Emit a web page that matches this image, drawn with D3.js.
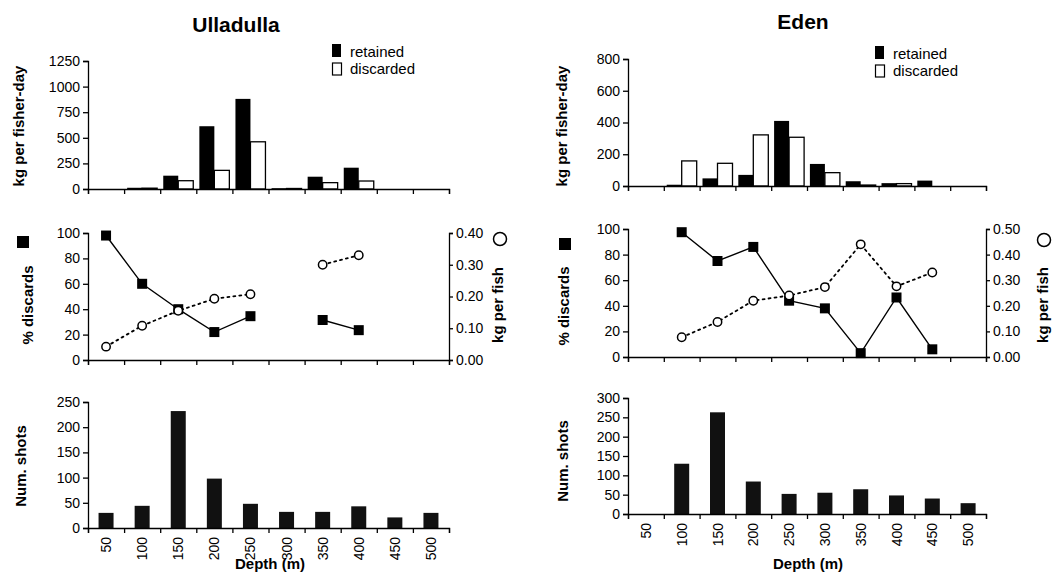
<!DOCTYPE html>
<html lang="en">
<head>
    <meta charset="UTF-8">
    <title>Ulladulla / Eden discards by depth</title>
    <script src="https://d3js.org/d3.v7.min.js"></script>
    <style>
        body {
            margin: 0;
            background: #fff;
            font-family: "Liberation Sans", Arial, sans-serif;
        }
        .tick text {
            font-size: 14px;
            fill: #000;
        }
        .domain, .tick line {
            stroke: #000;
            stroke-width: 1.3px;
        }
        .title {
            font-size: 21px;
            font-weight: bold;
        }
        .axtitle {
            font-size: 15px;
            font-weight: bold;
        }
        .legend {
            font-size: 15px;
        }
    </style>
</head>
<body>
<svg width="1056" height="574"></svg>
<script>
    // Depth classes (m)
    const depths = [50, 100, 150, 200, 250, 300, 350, 400, 450, 500];

    // Ulladulla
    const ullRetained  = [0, 12, 130, 613, 880, 8, 120, 208, 0, 0];
    const ullDiscarded = [0, 8, 81, 182, 461, 5, 62, 78, 0, 0];
    const ullPctDiscards = [98, 60, 40, 22, 34.5, null, 31.5, 23.5, null, null];
    const ullKgPerFish   = [0.042, 0.108, 0.155, 0.193, 0.207, null, 0.30, 0.33, null, null];
    const ullShots = [30, 44, 232, 98, 48, 32, 32, 43, 21, 30];

    // Eden
    const edenRetained  = [0, 8, 48, 70, 410, 139, 30, 18, 34, 0];
    const edenDiscarded = [0, 158, 143, 322, 307, 84, 6, 15, 0, 0];
    const edenPctDiscards = [null, 97.5, 75, 86, 44, 38, 3, 46.5, 6, null];
    const edenKgPerFish   = [null, 0.077, 0.137, 0.22, 0.24, 0.273, 0.44, 0.276, 0.33, null];
    const edenShots = [0, 130, 263, 84, 52, 55, 64, 48, 40, 28];

    // tick values
    const ullTopTicks = [0, 250, 500, 750, 1000, 1250];
    const edenTopTicks = [0, 200, 400, 600, 800];
    const pctTicks = [0, 20, 40, 60, 80, 100];
    const ullFishTicks = [0, 0.1, 0.2, 0.3, 0.4];
    const edenFishTicks = [0, 0.1, 0.2, 0.3, 0.4, 0.5];
    const ullShotTicks = [0, 50, 100, 150, 200, 250];
    const edenShotTicks = [0, 50, 100, 150, 200, 250, 300];

    const svg = d3.select("svg");

    const sites = [
        {
            name: "Ulladulla", titleX: 236, titleY: 32,
            x0: 88, x1: 449,
            top: [189, 61], mid: [360, 233], bot: [528, 402],
            retained: ullRetained, discarded: ullDiscarded,
            pct: ullPctDiscards, fish: ullKgPerFish, shots: ullShots,
            topTicks: ullTopTicks, fishTicks: ullFishTicks, shotTicks: ullShotTicks,
            legX: 332, legY: 44,
            lab: { kg: [18, 126], pct: [27, 305], sq: [23, 242], shots: [20, 466], depth: [270, 569], fish: [497, 305], circ: [500, 239] }
        },
        {
            name: "Eden", titleX: 803, titleY: 29,
            x0: 628, x1: 986,
            top: [186, 59], mid: [357, 229], bot: [514, 398],
            retained: edenRetained, discarded: edenDiscarded,
            pct: edenPctDiscards, fish: edenKgPerFish, shots: edenShots,
            topTicks: edenTopTicks, fishTicks: edenFishTicks, shotTicks: edenShotTicks,
            legX: 875, legY: 46,
            lab: { kg: [561, 126], pct: [563, 306], sq: [565, 244], shots: [562, 461], depth: [808, 569], fish: [1042, 305], circ: [1044, 240] }
        }
    ];

    function vtext(g, x, y, txt) {
        g.append("text")
            .attr("class", "axtitle")
            .attr("transform", `translate(${x},${y}) rotate(-90)`)
            .attr("text-anchor", "middle")
            .attr("dominant-baseline", "central")
            .text(txt);
    }

    sites.forEach(s => {
        const g = svg.append("g");
        const x = d3.scaleBand().domain(depths).range([s.x0, s.x1]);
        const bw = x.bandwidth();
        const edge = d3.scaleLinear().domain([0, depths.length]).range([s.x0, s.x1]);

        // boundary ticks on each x axis
        const xAxis = (y0) => g.append("g")
            .attr("transform", `translate(0,${y0})`)
            .call(d3.axisBottom(edge).tickValues(d3.range(depths.length + 1)).tickSize(5).tickFormat(""));

        g.append("text").attr("class", "title")
            .attr("x", s.titleX).attr("y", s.titleY)
            .attr("text-anchor", "middle").text(s.name);

        // ---- top: kg per fisher-day ----
        const yTop = d3.scaleLinear().domain([0, d3.max(s.topTicks)]).range(s.top);
        g.append("g").attr("transform", `translate(${s.x0},0)`)
            .call(d3.axisLeft(yTop).tickValues(s.topTicks).tickSize(5).tickFormat(d3.format("d")));
        const barW = 15;
        const off = (bw - 2 * barW) / 2;
        g.selectAll(".ret").data(depths).join("rect")
            .attr("x", d => x(d) + off)
            .attr("y", (d, i) => yTop(s.retained[i]))
            .attr("width", barW)
            .attr("height", (d, i) => yTop(0) - yTop(s.retained[i]))
            .attr("fill", "#000");
        g.selectAll(".disc").data(depths).join("rect")
            .attr("x", d => x(d) + off + barW)
            .attr("y", (d, i) => yTop(s.discarded[i]))
            .attr("width", barW)
            .attr("height", (d, i) => yTop(0) - yTop(s.discarded[i]))
            .attr("fill", "#fff").attr("stroke", "#000").attr("stroke-width", 1.3);
        xAxis(s.top[0]);

        // legend
        g.append("rect").attr("x", s.legX).attr("y", s.legY).attr("width", 9).attr("height", 13).attr("fill", "#000");
        g.append("rect").attr("x", s.legX + 0.5).attr("y", s.legY + 19).attr("width", 9).attr("height", 12)
            .attr("fill", "#fff").attr("stroke", "#000").attr("stroke-width", 1.2);
        g.append("text").attr("class", "legend").attr("x", s.legX + 18).attr("y", s.legY + 7)
            .attr("dominant-baseline", "central").text("retained");
        g.append("text").attr("class", "legend").attr("x", s.legX + 18).attr("y", s.legY + 24)
            .attr("dominant-baseline", "central").text("discarded");

        vtext(g, s.lab.kg[0], s.lab.kg[1], "kg per fisher-day");

        // ---- middle: % discards and kg per fish ----
        const yPct = d3.scaleLinear().domain([0, 100]).range(s.mid);
        const yFish = d3.scaleLinear().domain([0, d3.max(s.fishTicks)]).range(s.mid);
        g.append("g").attr("transform", `translate(${s.x0},0)`)
            .call(d3.axisLeft(yPct).tickValues(pctTicks).tickSize(5));
        g.append("g").attr("transform", `translate(${s.x1},0)`)
            .call(d3.axisRight(yFish).tickValues(s.fishTicks).tickSize(4).tickFormat(d3.format(".2f")));
        xAxis(s.mid[0]);

        const cx = d => x(d) + bw / 2;
        const fishLine = d3.line()
            .defined((d, i) => s.fish[i] != null)
            .x(d => cx(d)).y((d, i) => yFish(s.fish[i]));
        g.append("path").attr("d", fishLine(depths))
            .attr("fill", "none").attr("stroke", "#000").attr("stroke-width", 1.8)
            .attr("stroke-dasharray", "2,4").attr("stroke-linecap", "round");
        const pctLine = d3.line()
            .defined((d, i) => s.pct[i] != null)
            .x(d => cx(d)).y((d, i) => yPct(s.pct[i]));
        g.append("path").attr("d", pctLine(depths))
            .attr("fill", "none").attr("stroke", "#000").attr("stroke-width", 1.4);

        g.selectAll(".sq").data(depths.filter((d, i) => s.pct[i] != null)).join("rect")
            .attr("x", d => cx(d) - 5).attr("y", d => yPct(s.pct[depths.indexOf(d)]) - 5)
            .attr("width", 10).attr("height", 10).attr("fill", "#000");
        g.selectAll(".circ").data(depths.filter((d, i) => s.fish[i] != null)).join("circle")
            .attr("cx", d => cx(d)).attr("cy", d => yFish(s.fish[depths.indexOf(d)]))
            .attr("r", 4.2).attr("fill", "#fff").attr("stroke", "#000").attr("stroke-width", 1.5);

        g.append("rect").attr("x", s.lab.sq[0] - 6).attr("y", s.lab.sq[1] - 6)
            .attr("width", 12).attr("height", 12).attr("fill", "#000");
        vtext(g, s.lab.pct[0], s.lab.pct[1], "% discards");
        g.append("circle").attr("cx", s.lab.circ[0]).attr("cy", s.lab.circ[1]).attr("r", 6.5)
            .attr("fill", "#fff").attr("stroke", "#000").attr("stroke-width", 1.5);
        vtext(g, s.lab.fish[0], s.lab.fish[1], "kg per fish");

        // ---- bottom: number of shots ----
        const yBot = d3.scaleLinear().domain([0, d3.max(s.shotTicks)]).range(s.bot);
        g.append("g").attr("transform", `translate(${s.x0},0)`)
            .call(d3.axisLeft(yBot).tickValues(s.shotTicks).tickSize(5));
        const sw = 15;
        g.selectAll(".shot").data(depths).join("rect")
            .attr("x", d => x(d) + (bw - sw) / 2)
            .attr("y", (d, i) => yBot(s.shots[i]))
            .attr("width", sw)
            .attr("height", (d, i) => yBot(0) - yBot(s.shots[i]))
            .attr("fill", "#111");
        xAxis(s.bot[0]);
        g.selectAll(".xlab").data(depths).join("text")
            .attr("transform", d => `translate(${cx(d)},${s.bot[0] + 9}) rotate(-90)`)
            .attr("text-anchor", "end")
            .attr("dominant-baseline", "central")
            .style("font-size", "14px")
            .text(d => d);

        vtext(g, s.lab.shots[0], s.lab.shots[1], "Num. shots");
        g.append("text").attr("class", "axtitle")
            .attr("x", s.lab.depth[0]).attr("y", s.lab.depth[1])
            .attr("text-anchor", "middle").text("Depth (m)");
    });
</script>
</body>
</html>
